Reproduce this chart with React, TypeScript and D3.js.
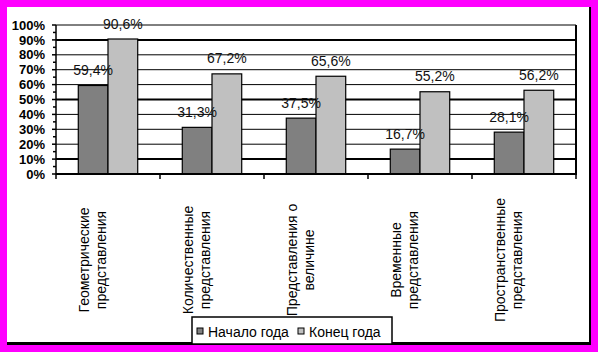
import React, {useEffect, useRef} from "react";
import * as d3 from "d3";

// chart data
const categories = [
  ["Геометрические", "представления"],
  ["Количественные", "представления"],
  ["Представления о", "величине"],
  ["Временные", "представления"],
  ["Пространственные", "представления"],
];
const seriesNames = ["Начало года", "Конец года"];
const startOfYear = [59.4, 31.3, 37.5, 16.7, 28.1];
const endOfYear = [90.6, 67.2, 65.6, 55.2, 56.2];
const yTicks = [0, 10, 20, 30, 40, 50, 60, 70, 80, 90, 100];
const thickGrid = [10, 50, 90];

const colors = ["#808080", "#c0c0c0"];
const font = "'Liberation Sans', Arial, sans-serif";

function App() {
  const ref = useRef<SVGSVGElement>(null);
  const width = 598;
  const height = 352;
  const plot = {left: 56, right: 576, top: 25, bottom: 174};

  useEffect(() => {
    const svg = d3.select(ref.current);
    svg.selectAll("*").remove();

    // magenta page + white panel with dark shadow on the right/bottom
    svg.append("rect").attr("width", width).attr("height", height).attr("fill", "#ff00ff");
    svg.append("rect").attr("x", 7).attr("y", 7).attr("width", 584).attr("height", 338).attr("fill", "#000");
    svg.append("rect").attr("x", 7).attr("y", 7).attr("width", 582).attr("height", 335).attr("fill", "#fff");

    const keys = categories.map(c => c.join(" "));
    const x = d3.scaleBand().domain(keys).range([plot.left, plot.right]);
    const inner = d3.scaleBand().domain(seriesNames).range([0, x.bandwidth()])
      .paddingInner(0).paddingOuter(0.75);
    const y = d3.scaleLinear().domain([0, 100]).range([plot.bottom, plot.top]);

    // gridlines
    svg.append("g").selectAll("line")
      .data(yTicks.filter(t => t > 0))
      .join("line")
      .attr("x1", plot.left).attr("x2", plot.right)
      .attr("y1", d => y(d)).attr("y2", d => y(d))
      .attr("stroke", "#000")
      .attr("stroke-width", d => thickGrid.includes(d) ? 2 : 1);

    // right border of the plot area
    svg.append("line")
      .attr("x1", plot.right).attr("x2", plot.right)
      .attr("y1", plot.top).attr("y2", plot.bottom + 1)
      .attr("stroke", "#000").attr("stroke-width", 2);

    // bars
    const data = [startOfYear, endOfYear];
    const groups = svg.append("g").selectAll("g")
      .data(keys)
      .join("g")
      .attr("transform", d => `translate(${x(d)},0)`);
    groups.selectAll("rect")
      .data((d, i) => seriesNames.map((s, j) => ({s, j, v: data[j][i]})))
      .join("rect")
      .attr("x", d => inner(d.s)!)
      .attr("width", inner.bandwidth())
      .attr("y", d => y(d.v))
      .attr("height", d => y(0) - y(d.v))
      .attr("fill", d => colors[d.j])
      .attr("stroke", "#000")
      .attr("stroke-width", 1.2);
    groups.selectAll("text")
      .data((d, i) => seriesNames.map((s, j) => ({s, j, v: data[j][i]})))
      .join("text")
      .attr("x", d => inner(d.s)! + inner.bandwidth() / 2)
      .attr("y", d => y(d.v) - 10.5)
      .attr("text-anchor", "middle")
      .attr("font-family", font)
      .attr("font-size", 14)
      .attr("fill", "#111")
      .text(d => d.v.toFixed(1).replace(".", ",") + "%");

    // y axis
    const yAxis = svg.append("g");
    yAxis.append("line")
      .attr("x1", plot.left).attr("x2", plot.left)
      .attr("y1", plot.top).attr("y2", plot.bottom)
      .attr("stroke", "#000").attr("stroke-width", 1.5);
    yAxis.selectAll("line.tick")
      .data(d3.range(0, 101, 5))
      .join("line")
      .attr("class", "tick")
      .attr("x1", d => d % 10 === 0 ? plot.left - 4 : plot.left - 3)
      .attr("x2", plot.left)
      .attr("y1", d => y(d)).attr("y2", d => y(d))
      .attr("stroke", "#000").attr("stroke-width", 1.5);
    yAxis.selectAll("text")
      .data(yTicks)
      .join("text")
      .attr("x", 45)
      .attr("y", d => y(d))
      .attr("dy", "0.36em")
      .attr("text-anchor", "end")
      .attr("font-family", font)
      .attr("font-size", 13)
      .attr("font-weight", "bold")
      .text(d => d + "%");

    // x axis
    const xAxis = svg.append("g");
    xAxis.append("line")
      .attr("x1", plot.left).attr("x2", plot.right + 1)
      .attr("y1", plot.bottom).attr("y2", plot.bottom)
      .attr("stroke", "#000").attr("stroke-width", 2);
    xAxis.selectAll("line.tick")
      .data([...keys.map(k => x(k)!), plot.right])
      .join("line")
      .attr("class", "tick")
      .attr("x1", d => d).attr("x2", d => d)
      .attr("y1", plot.bottom).attr("y2", plot.bottom + 5)
      .attr("stroke", "#000").attr("stroke-width", 1.5);
    const labels = xAxis.selectAll("text")
      .data(categories)
      .join("text")
      .attr("transform", (d, i) => `translate(${x(keys[i])! + x.bandwidth() / 2},260) rotate(-90)`)
      .attr("text-anchor", "middle")
      .attr("font-family", font)
      .attr("font-size", 14);
    labels.selectAll("tspan")
      .data(d => d)
      .join("tspan")
      .attr("x", 0)
      .attr("y", (d, i) => i === 0 ? -19.5 : -2.5)
      .text(d => d);

    // legend
    const legend = svg.append("g").attr("transform", "translate(192,317)");
    legend.append("rect")
      .attr("width", 200).attr("height", 27)
      .attr("fill", "#fff").attr("stroke", "#000").attr("stroke-width", 1.5);
    const offsets = [5, 106];
    const items = legend.selectAll("g.item")
      .data(seriesNames)
      .join("g")
      .attr("class", "item")
      .attr("transform", (d, i) => `translate(${offsets[i]},0)`);
    items.append("rect")
      .attr("x", 0).attr("y", 11).attr("width", 6).attr("height", 6)
      .attr("fill", (d, i) => colors[i])
      .attr("stroke", "#000").attr("stroke-width", 1);
    items.append("text")
      .attr("x", 11).attr("y", 20)
      .attr("font-family", font)
      .attr("font-size", 14)
      .text(d => d);
  }, []);

  return (
    <svg ref={ref} width={width} height={height}
      style={{position: "absolute", left: 0, top: 0, display: "block"}}/>
  );
}

export default App;
